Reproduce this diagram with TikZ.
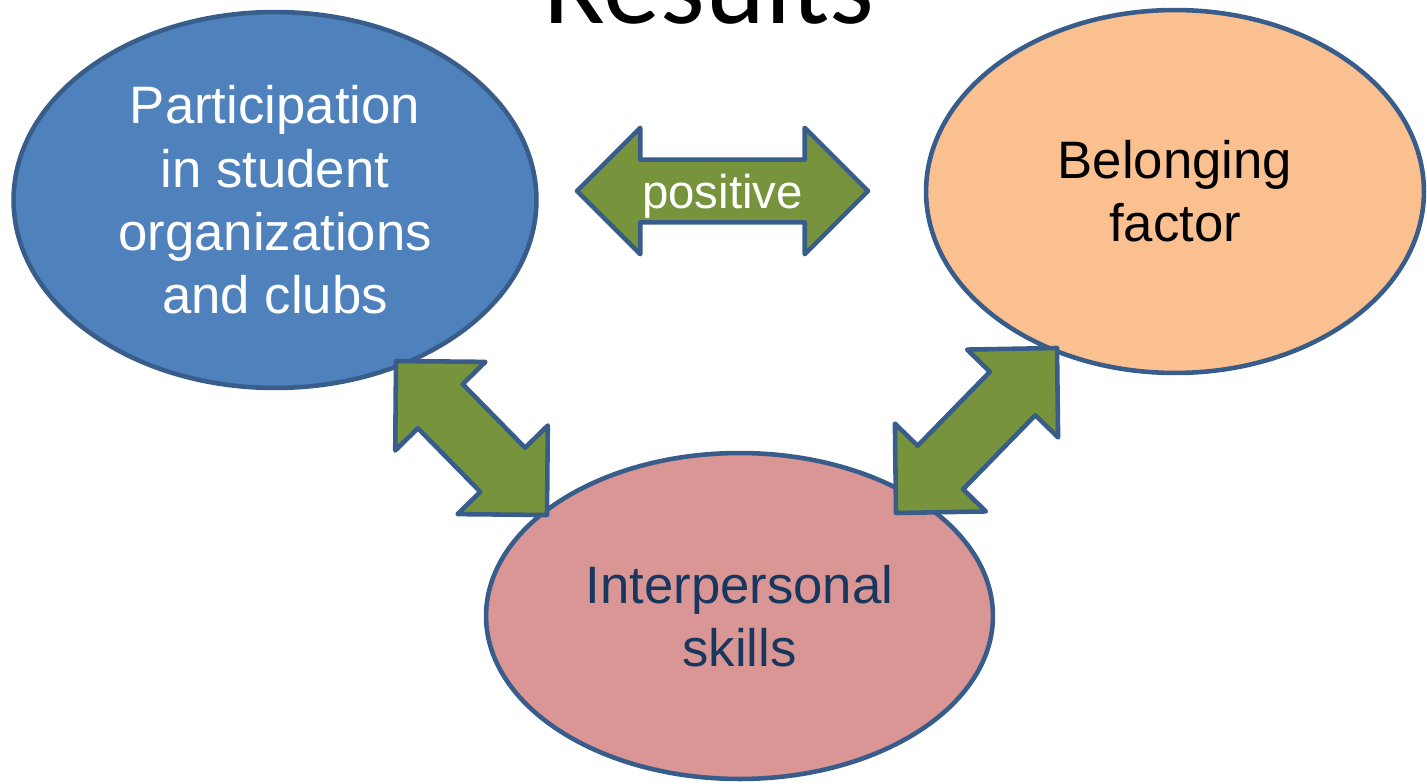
\documentclass[tikz,border=0pt]{standalone}
\usepackage{fontspec}
\setmainfont{Liberation Sans}
\newfontfamily\titlefont{Carlito}
\usetikzlibrary{shapes.geometric,calc}

\definecolor{clubblue}{HTML}{4F81BD}
\definecolor{edgeblue}{HTML}{385D8A}
\definecolor{belongorange}{HTML}{FAC090}
\definecolor{skillpink}{HTML}{D99694}
\definecolor{arrowgreen}{HTML}{77933C}
\definecolor{skillnavy}{HTML}{17375E}

\begin{document}
\begin{tikzpicture}[x=0.02cm, y=-0.02cm,
    bubble/.style={ellipse, draw=edgeblue, line width=2.6pt, inner sep=0pt, align=center,
      font=\fontsize{30}{36}\selectfont},
    twoway/.style={draw=edgeblue, fill=arrowgreen, line width=2.6pt, line join=round}]
    \useasboundingbox (0,0) rectangle (1427,784);
    % Title, cut off by the top edge
    \node[font=\titlefont\fontsize{65}{78}\selectfont, anchor=base] (title) at (709,24) {Results};
    % The three ovals
    \node[bubble, fill=clubblue, text=white, minimum width=10.46cm, minimum height=7.52cm]
        (clubs) at (275,200) {Participation\\in student\\organizations\\and clubs};
    \node[bubble, fill=belongorange, minimum width=9.96cm, minimum height=7.26cm]
        (belong) at (1175,191.5) {Belonging\\factor};
    \node[bubble, fill=skillpink, text=skillnavy, minimum width=10.14cm, minimum height=6.52cm]
        (skills) at (739.5,616) {Interpersonal\\skills};
    % Arrow tips
    \coordinate (pos-l) at (577,191);
    \coordinate (pos-r) at (868,191);
    \coordinate (clubs-tip) at (396,361);
    \coordinate (skills-tipl) at (547,515);
    \coordinate (belong-tip) at (1057,348);
    \coordinate (skills-tipr) at (896,513);
    % Double block arrows
    \foreach \a/\b in {pos-l/pos-r, clubs-tip/skills-tipl, belong-tip/skills-tipr} {
        \draw[twoway] let \p1=($(\b)-(\a)$), \n1={atan2(\y1,\x1)}, \n2={veclen(\x1,\y1)-72} in
            (\a) -- ++(\n1+45:50.9pt) -- ++(\n1-90:18.1pt) -- ++(\n1:\n2) -- ++(\n1+90:18.1pt)
            -- (\b) -- ++(\n1-135:50.9pt) -- ++(\n1+90:18.1pt) -- ++(\n1+180:\n2)
            -- ++(\n1-90:18.1pt) -- cycle;
    }
    \node[text=white, font=\fontsize{27}{32}\selectfont, anchor=base] (poslabel) at (722.5,208) {positive};
\end{tikzpicture}
\end{document}
